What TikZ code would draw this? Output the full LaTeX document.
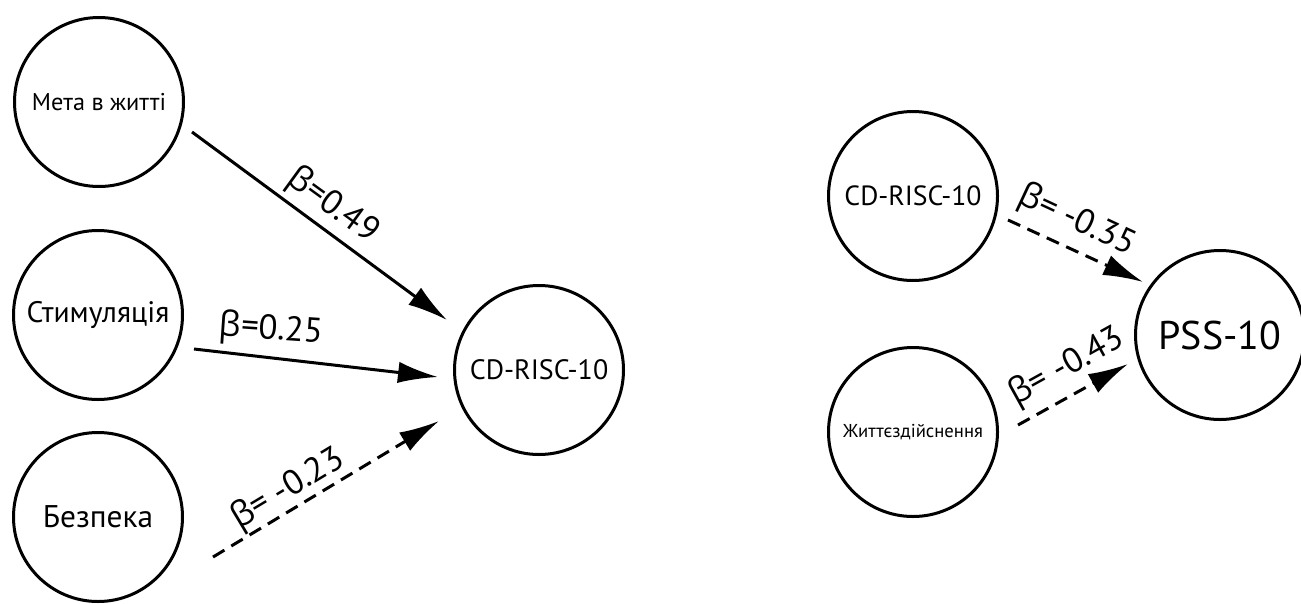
\documentclass[tikz,border=0pt]{standalone}
\usepackage{fontspec}
\setmainfont{PT Sans}
\newfontfamily\grk{Open Sans}
\usetikzlibrary{arrows.meta,calc}
\newcommand{\bt}{{\grk β}}
\newcommand{\fs}[1]{\fontsize{#1}{#1}\selectfont}
\begin{document}
\begin{tikzpicture}[x=0.75pt,y=-0.75pt,
  var/.style={circle,draw,line width=2.25pt,minimum size=126.75pt,inner sep=0pt},
  link/.style={line width=2.25pt,-{Latex[length=30pt,width=16pt]}},
  neg/.style={link,dash pattern=on 10pt off 6pt},
  lbl/.style={inner sep=0pt,font=\fs{26}}]
\useasboundingbox (0,0) rectangle (1301,603);
% left model
\node[var,font=\fs{18.2}] (meta) at (99,102) {Мета в житті};
\node[var,font=\fs{22.2}] (stim) at (98,315) {Стимуляція};
\node[var,font=\fs{23.5}] (bez) at (98,517) {Безпека};
\node[var,font=\fs{21}] (cd) at (539,370) {CD-RISC-10};
% right model
\node[var,font=\fs{20.8}] (cdr) at (913,196) {CD-RISC-10};
\node[var,font=\fs{14}] (zh) at (913,432) {Життєздійснення};
\node[var,font=\fs{30}] (pss) at (1220,335) {PSS-10};
% connectors
\draw[link] ($(meta)+(93,30)$) -- ($(cd)+(-92,-50)$);
\draw[link] ($(stim)+(96,34)$) -- ($(cd)+(-101,7)$);
\draw[neg] ($(bez)+(115,40)$) -- ($(cd)+(-100,51)$);
\draw[neg] ($(cdr)+(95,24)$) -- ($(pss)+(-77,-53)$);
\draw[neg] ($(zh)+(105,-7)$) -- ($(pss)+(-92,29)$);
% labels
\node[lbl,rotate=-36] (l1) at (333,206) {\bt=0.49};
\node[lbl,rotate=-4] (l2) at (271,330) {\bt=0.25};
\node[lbl,rotate=31] (l3) at (288,489) {\bt= -0.23};
\node[lbl,rotate=-25] (l4) at (1077,221) {\bt= -0.35};
\node[lbl,rotate=29] (l5) at (1067,367) {\bt= -0.43};
\end{tikzpicture}
\end{document}
